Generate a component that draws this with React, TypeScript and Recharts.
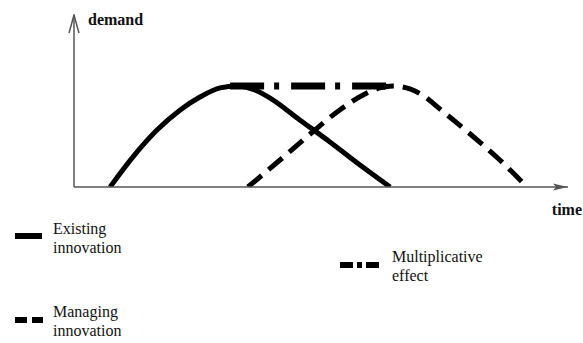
import { LineChart, Line, XAxis, YAxis, Label } from "recharts";

// time / demand (x axis 0..100, y axis 0..100)
const existingTime = [7.3, 11.9, 16.8, 21.5, 25.5, 29.6, 33.0, 36.6, 39.7, 45.7, 51.8, 57.9, 64.0];
const existingDemand = [0, 17.4, 33.1, 44.8, 52.3, 57.6, 58.7, 56.4, 51.7, 39.0, 26.2, 12.8, 0];

const managingTime = [35.2, 41.7, 47.8, 53.8, 58.9, 61.9, 64.6, 68.0, 71.1, 74.1, 80.2, 86.2, 91.7];
const managingDemand = [0, 15.7, 30.8, 44.8, 54.1, 57.6, 58.7, 57.0, 52.3, 45.3, 30.8, 15.7, 0];

const multiplicativeTime = [31.6, 64.0];
const multiplicativeDemand = [58.7, 58.7];

const toRows = (time: number[], demand: number[]) => time.map((t, i) => ({ t, d: demand[i] }));

const SERIES = [
  { key: "existing", label: ["Existing", "innovation"], data: toRows(existingTime, existingDemand), dash: undefined, width: 5, curve: "monotone" },
  { key: "managing", label: ["Managing", "innovation"], data: toRows(managingTime, managingDemand), dash: "18 9", width: 5, curve: "monotone" },
  { key: "multiplicative", label: ["Multiplicative", "effect"], data: toRows(multiplicativeTime, multiplicativeDemand), dash: "34 10 5 12", width: 7, curve: "linear" },
] as const;

const FONT = '"Liberation Serif", "DejaVu Serif", "Times New Roman", Times, serif';

// legend placement + swatch pattern for each entry
const LEGEND_LAYOUT: Record<string, { left: number; top: number; swX: number; swY: number; swW: number; swDash?: string }> = {
  existing: { left: 53, top: 219, swX: 15, swY: 236, swW: 27 },
  managing: { left: 53, top: 302, swX: 15, swY: 320, swW: 28, swDash: "12 5" },
  multiplicative: { left: 392, top: 247, swX: 340, swY: 265, swW: 40, swDash: "13 4 5 4" },
};

function LegendItem({ id, lines }: { id: string; lines: readonly string[] }) {
  const l = LEGEND_LAYOUT[id];
  return (
    <>
      <svg style={{ position: "absolute", left: l.swX, top: l.swY - 5 }} width={l.swW} height={10}>
        <line x1={0} y1={5} x2={l.swW} y2={5} stroke="#000" strokeWidth={6} strokeDasharray={l.swDash} />
      </svg>
      <div style={{ position: "absolute", left: l.left, top: l.top, fontFamily: FONT, fontSize: 16, lineHeight: "19px", color: "#111" }}>
        {lines.map((s) => (
          <div key={s}>{s}</div>
        ))}
      </div>
    </>
  );
}

export default function App() {
  return (
    <div style={{ position: "absolute", left: 0, top: 0, width: 583, height: 343, background: "#fff" }}>
      <LineChart width={583} height={343} margin={{ top: 15, right: 15, bottom: 155, left: 73 }}>
        <defs>
          <marker id="arrowX" viewBox="0 0 15 8" refX={15} refY={4} markerWidth={15} markerHeight={8} markerUnits="userSpaceOnUse" orient="auto">
            <path d="M0,0.5 L15,4 L0,7.5 L3,4 Z" fill="#555" />
          </marker>
          <marker id="arrowY" viewBox="-1 -1 20 12" refX={18} refY={5} markerWidth={20} markerHeight={12} markerUnits="userSpaceOnUse" orient="auto-start-reverse">
            <path d="M0,0 L18,5 L0,10" fill="none" stroke="#555" strokeWidth={1.5} />
          </marker>
        </defs>
        <XAxis
          type="number"
          dataKey="t"
          domain={[0, 100]}
          allowDataOverflow
          height={1}
          tick={false}
          tickLine={false}
          axisLine={{ stroke: "#555", strokeWidth: 1.5, markerEnd: "url(#arrowX)" }}
        >
          <Label
            content={({ viewBox }: any) => (
              <text x={viewBox.x + viewBox.width + 14} y={viewBox.y + 28} textAnchor="end" fontFamily={FONT} fontSize={16} fontWeight="bold" fill="#111">
                time
              </text>
            )}
          />
        </XAxis>
        <YAxis
          type="number"
          domain={[0, 100]}
          allowDataOverflow
          width={1}
          tick={false}
          tickLine={false}
          axisLine={{ stroke: "#555", strokeWidth: 1.5, markerStart: "url(#arrowY)" }}
        >
          <Label
            content={({ viewBox }: any) => (
              <text x={viewBox.x + viewBox.width + 14} y={viewBox.y + 10} fontFamily={FONT} fontSize={16} fontWeight="bold" fill="#111">
                demand
              </text>
            )}
          />
        </YAxis>
        {SERIES.map((s) => (
          <Line
            key={s.key}
            data={s.data}
            dataKey="d"
            type={s.curve}
            stroke="#000"
            strokeWidth={s.width}
            strokeDasharray={s.dash}
            dot={false}
            activeDot={false}
            isAnimationActive={false}
          />
        ))}
      </LineChart>
      {SERIES.map((s) => (
        <LegendItem key={s.key} id={s.key} lines={s.label} />
      ))}
    </div>
  );
}
